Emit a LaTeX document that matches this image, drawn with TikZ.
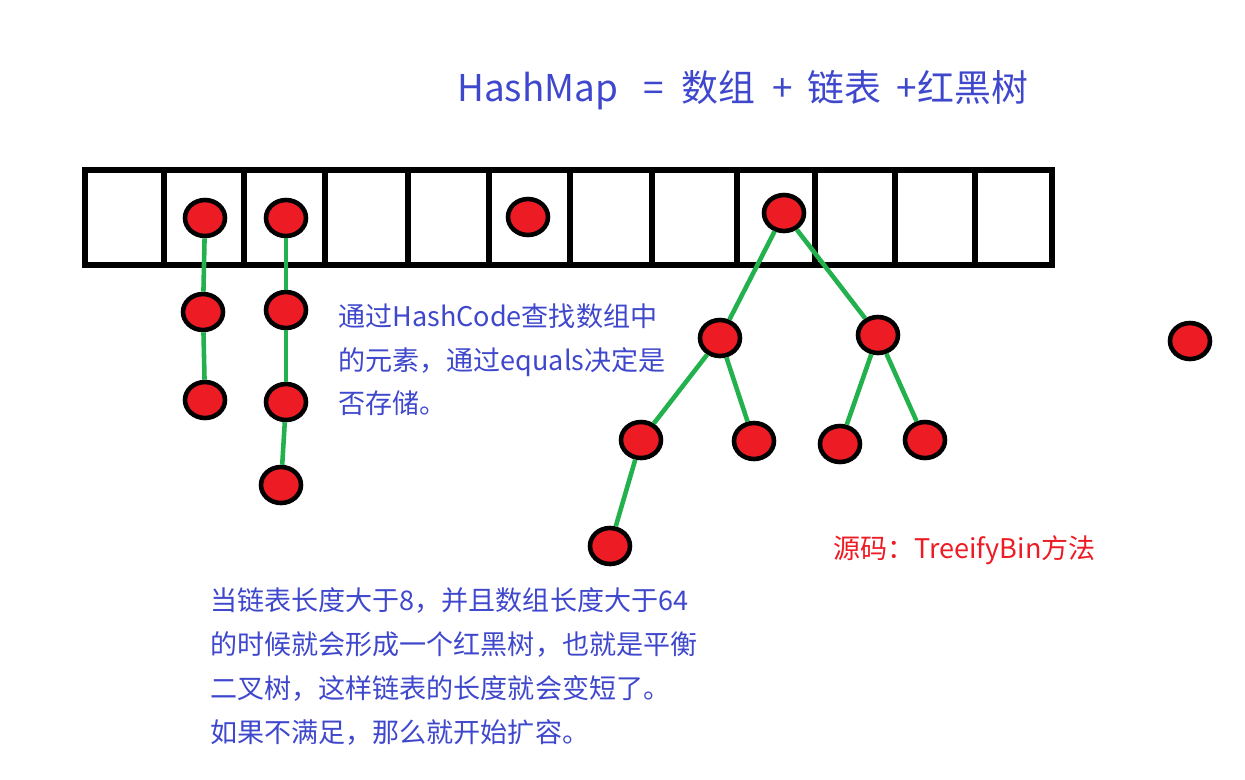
\documentclass[tikz,border=0pt]{standalone}
\usepackage{fontspec}
\newfontfamily\cjk{Noto Sans CJK SC}
\usetikzlibrary{shapes.geometric}
\definecolor{entryRed}{RGB}{237,28,36}
\definecolor{linkGreen}{RGB}{34,177,76}
\definecolor{noteBlue}{RGB}{63,72,204}
\tikzset{
cellstyle/.style={rectangle, draw, line width=3.2pt, minimum height=1.9cm, inner sep=0pt},
entrystyle/.style={ellipse, draw, line width=2.6pt, fill=entryRed, minimum width=0.8cm, minimum height=0.72cm, inner sep=0pt},
linkstyle/.style={draw=linkGreen, line width=2.6pt},
notestyle/.style={font=\cjk\fontsize{15.4}{25}\selectfont, text=noteBlue, align=left, inner sep=0pt}
}
\newcommand{\entry}[3]{
  \node [entrystyle] (#1) at (#2,#3) {};
}
\newcommand{\connect}[2]{
  \draw [linkstyle] (#1) -- (#2);
}
\begin{document}
\begin{tikzpicture}[x=0.02cm, y=-0.02cm]
\useasboundingbox (0,0) rectangle (1245,779);

% the array
\foreach \l/\r [count=\i] in {85/164,164/244,244/325,325/408,408/489,489/570,570/652,652/737,737/815,815/895,895/975,975/1052}
  \node [cellstyle, minimum width={(\r-\l)*0.02cm}] (cell\i) at ({(\l+\r)/2},217.5) {};

% buckets
\entry{ba}{205}{218}
\entry{bb}{286}{218}
\entry{bc}{528}{217}
\entry{bd}{784}{213}

% lists
\entry{la1}{203}{312}
\entry{la2}{205}{400}
\entry{lb1}{286}{310}
\entry{lb2}{286}{402}
\entry{lb3}{281}{485}
\connect{ba}{la1}
\connect{la1}{la2}
\connect{bb}{lb1}
\connect{lb1}{lb2}
\connect{lb2}{lb3}

% tree
\entry{t1}{720}{338}
\entry{t2}{878}{335}
\entry{t3}{641}{440}
\entry{t4}{754}{441}
\entry{t5}{840}{444}
\entry{t6}{925}{440}
\entry{t7}{610}{546}
\connect{bd}{t1}
\connect{bd}{t2}
\connect{t1}{t3}
\connect{t1}{t4}
\connect{t2}{t5}
\connect{t2}{t6}
\connect{t3}{t7}

\entry{lone}{1190}{341}

% texts
\node [notestyle, font=\cjk\fontsize{21}{25}\selectfont, anchor=west] (title) at (457,90) {HashMap\hspace{0.5cm}=\hspace{0.35cm}数组\hspace{0.35cm}+\hspace{0.3cm}链表\hspace{0.3cm}+红黑树};
\node [notestyle, anchor=north west] (notea) at (338,303) {通过HashCode查找数组中\\的元素，通过equals决定是\\否存储。};
\node [notestyle, anchor=north west] (noteb) at (210,587) {当链表长度大于8，并且数组长度大于64\\的时候就会形成一个红黑树，也就是平衡\\二叉树，这样链表的长度就会变短了。\\如果不满足，那么就开始扩容。};
\node [notestyle, text=entryRed, anchor=west] (source) at (833,550) {源码：TreeifyBin方法};

\end{tikzpicture}
\end{document}
